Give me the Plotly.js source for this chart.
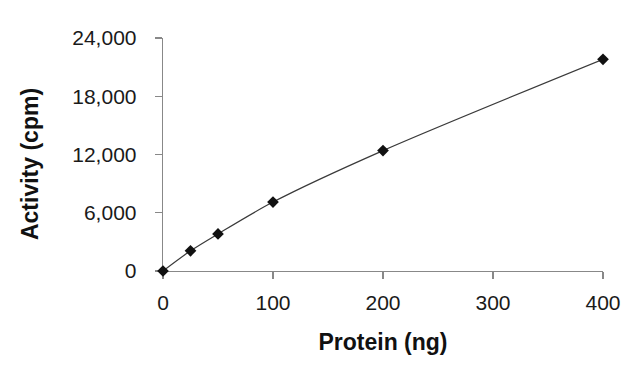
<!DOCTYPE html>
<html>
<head>
<meta charset="utf-8">
<script src="https://cdn.plot.ly/plotly-3.0.1.min.js"></script>
<style>html,body{margin:0;padding:0;background:#fff;}#chart{width:640px;height:366px;}</style>
</head>
<body>
<div id="chart"></div>
<script>
const protein = [0, 25, 50, 100, 200, 400];
const activity = [0, 2080, 3820, 7100, 12400, 21800];
const xTicks = [0, 100, 200, 300, 400];
const yTicks = [0, 6000, 12000, 18000, 24000];
const yTickLabels = ["0", "6,000", "12,000", "18,000", "24,000"];
const xTitle = 'Protein (ng)';
const yTitle = 'Activity (cpm)';

const trace = {
  x: protein,
  y: activity,
  type: 'scatter',
  mode: 'lines+markers',
  line: {color: '#3a3a3a', width: 1.2, shape: 'spline', smoothing: 0.8},
  marker: {symbol: 'diamond', size: 9, color: '#111111'},
  cliponaxis: false,
  hoverinfo: 'none'
};

const fam = 'Liberation Sans, Arial, sans-serif';

const layout = {
  width: 640, height: 366,
  margin: {l: 163, r: 37, t: 38, b: 95},
  paper_bgcolor: '#ffffff', plot_bgcolor: '#ffffff',
  showlegend: false,
  font: {family: fam, color: '#222222'},
  xaxis: {
    range: [0, 400], tickvals: xTicks, ticks: 'outside', ticklen: 7, tickcolor: '#888888', tickwidth: 1.3,
    showline: true, linecolor: '#888888', linewidth: 1.3, showgrid: false, zeroline: false, layer: 'below traces',
    tickfont: {size: 21, family: fam, color: '#1a1a1a'},
    ticklabelstandoff: 5,
    title: {text: xTitle, font: {size: 23, family: fam, color: '#111111', weight: 'bold'}, standoff: 21}
  },
  yaxis: {
    range: [0, 24000], tickvals: yTicks, ticktext: yTickLabels, ticks: 'outside', ticklen: 7, tickcolor: '#888888', tickwidth: 1.3,
    showline: true, linecolor: '#888888', linewidth: 1.3, showgrid: false, zeroline: false, layer: 'below traces',
    tickfont: {size: 21, family: fam, color: '#1a1a1a'},
    ticklabelstandoff: 14
  },
  annotations: [{
    text: yTitle, xref: 'paper', yref: 'paper', x: -0.3023, y: 0.459,
    xanchor: 'center', yanchor: 'middle', textangle: -90, showarrow: false,
    font: {size: 23, family: fam, color: '#111111', weight: 'bold'}
  }]
};

Plotly.newPlot('chart', [trace], layout, {displayModeBar: false, staticPlot: true});
</script>
</body>
</html>
